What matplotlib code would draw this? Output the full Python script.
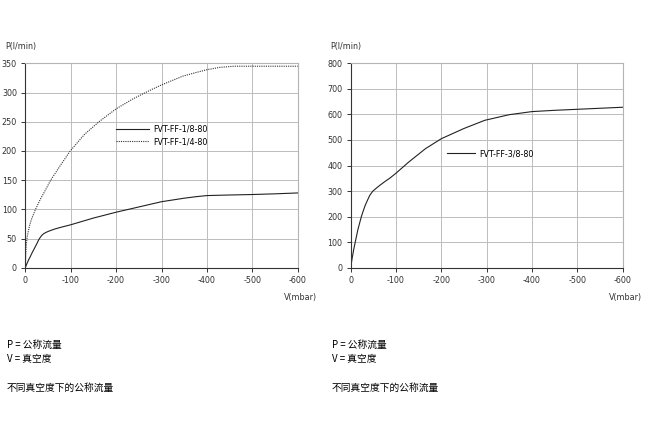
import numpy as np
import matplotlib
matplotlib.use("Agg")
import matplotlib.pyplot as plt

plt.rcParams['font.family'] = ['DejaVu Sans', 'Noto Sans CJK SC']

# left chart
v_18 = [0, -3, -7, -11, -14.6, -18, -22, -26, -29, -33, -36.5, -41, -47, -55, -66, -80, -100, -124, -150, -175,
        -200, -250, -300, -350, -375, -400, -450, -500, -550, -600]
p_18 = [0, 6, 13, 19, 25, 30, 36, 42, 47, 52, 55.5, 58.5, 61, 63.5, 66.5, 69.5, 73.5, 79, 85, 90,
        95, 104, 113, 119, 121.5, 123.5, 124.5, 125.3, 126.5, 128]

v_14 = [0, -1, -2, -4, -7, -10, -14.6, -22, -33, -45, -56, -78, -99, -130, -164, -200, -237, -270, -300, -325,
        -347, -375, -400, -428, -460, -500, -600]
p_14 = [0, 22, 38, 52, 64, 74, 85, 99, 117, 134, 150, 176, 200, 228, 251, 272, 289, 302, 313, 321,
        328, 334, 339, 343, 345, 345, 345]

# right chart
v_38 = [0, -3, -6.5, -10, -16, -23.5, -28, -32, -37, -42, -46, -49, -53, -57, -64, -76, -86, -100, -127, -165,
        -200, -250, -296, -350, -400, -450, -500, -550, -600]
p_38 = [0, 35, 70, 100, 150, 200, 224, 244, 264, 283, 293, 300, 306, 312, 322, 338, 350, 370, 412, 466,
        505, 545, 577, 599, 611, 616, 620, 624, 628]

x_ticks = [0, -100, -200, -300, -400, -500, -600]
y_ticks_l = [0, 50, 100, 150, 200, 250, 300, 350]
y_ticks_r = [0, 100, 200, 300, 400, 500, 600, 700, 800]

fig = plt.figure(figsize=(6.57, 4.32), dpi=100)
W, H = 657, 432


def make_ax(x0, x1, y0, y1):
    return fig.add_axes([x0 / W, 1 - y0 / H, (x1 - x0) / W, (y0 - y1) / H])


ax1 = make_ax(25.3, 297.7, 267.7, 63.3)
ax2 = make_ax(350.7, 622.7, 267.7, 63.3)

for ax, yt in ((ax1, y_ticks_l), (ax2, y_ticks_r)):
    ax.set_xlim(0, -600)
    ax.set_ylim(yt[0], yt[-1])
    ax.set_xticks(x_ticks)
    ax.set_xticklabels([str(t) for t in x_ticks])
    ax.set_yticks(yt)
    ax.grid(True, color='#bcbcbc', linewidth=0.7)
    ax.set_axisbelow(True)
    ax.tick_params(labelsize=5.8, colors='#333333', length=3, width=0.7, pad=3)
    for s in ('top', 'right'):
        ax.spines[s].set_color('#b4b4b4')
        ax.spines[s].set_linewidth(0.8)
    for s in ('left', 'bottom'):
        ax.spines[s].set_color('#333333')
        ax.spines[s].set_linewidth(0.8)
    ax.text(-0.075, 1.06, 'P(l/min)', transform=ax.transAxes, fontsize=5.8, color='#333333',
            ha='left', va='bottom')
    ax.text(1.07, -0.125, 'V(mbar)', transform=ax.transAxes, fontsize=5.8, color='#333333',
            ha='right', va='top')

ax1.plot(v_18, p_18, color='#222222', linewidth=0.8, label='FVT-FF-1/8-80')
ax1.plot(v_14, p_14, color='#333333', linewidth=0.8, linestyle=(0, (1, 1)), label='FVT-FF-1/4-80')
ax1.legend(loc='upper left', bbox_to_anchor=(0.32, 0.72), frameon=False, fontsize=5.8,
           handlelength=4.0, handletextpad=0.6, labelspacing=0.45, borderpad=0)

ax2.plot(v_38, p_38, color='#222222', linewidth=0.8, label='FVT-FF-3/8-80')
ax2.legend(loc='upper left', bbox_to_anchor=(0.34, 0.60), frameon=False, fontsize=5.8,
           handlelength=3.4, handletextpad=0.6, borderpad=0)

cjk = ['Noto Sans CJK SC', 'DejaVu Sans']
for x0 in (7, 332):
    fig.text(x0 / W, 1 - 345 / H, 'P = 公称流量', family=cjk, fontsize=7, va='center')
    fig.text(x0 / W, 1 - 359 / H, 'V = 真空度', family=cjk, fontsize=7, va='center')
    fig.text(x0 / W, 1 - 388 / H, '不同真空度下的公称流量', family=cjk, fontsize=7, va='center')

fig.savefig('out.png', dpi=100)
